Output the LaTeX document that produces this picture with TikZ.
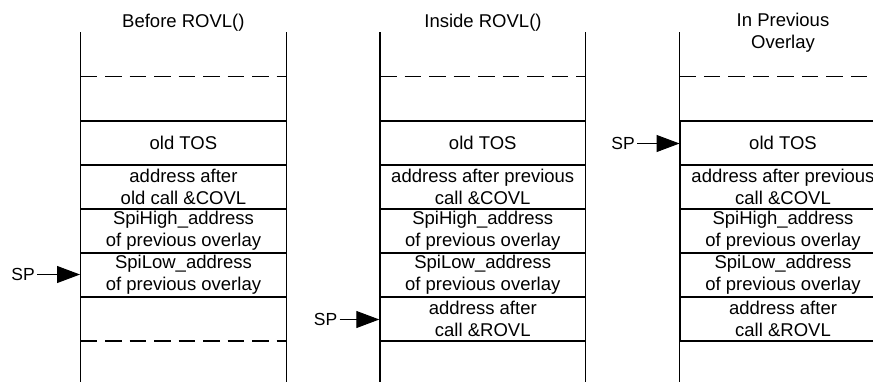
\documentclass[tikz,border=0pt]{standalone}
\usepackage{fontspec}
\setmainfont{Liberation Sans}
\usetikzlibrary{arrows.meta}

\tikzset{
  cell/.style={draw, line width=1.4pt, minimum width=205.5pt, minimum height=44pt,
    inner sep=0pt, align=center, font=\fontsize{18.5}{22}\selectfont},
  title/.style={align=center, inner sep=0pt, font=\fontsize{18.5}{22}\selectfont},
  splabel/.style={anchor=east, inner sep=2pt, font=\fontsize{17.5}{20}\selectfont},
  sparrow/.style={line width=1pt, -{Triangle[length=23pt,width=17pt]}},
  wall/.style={line width=1.2pt},
  gap/.style={line width=1.5pt, dash pattern=on 16.5pt off 8pt},
}

\begin{document}
\begin{tikzpicture}[x=1pt, y=-1pt]
  \useasboundingbox (0,0) rectangle (873,381);
  \clip (0,0) rectangle (873,381);

  % column titles
  \node[title] (t1) at (183.4,22.5) {Before ROVL()};
  \node[title] (t2) at (483,22.5) {Inside ROVL()};
  \node[title] (t3) at (783,33) {In Previous\\Overlay};

  % stack walls
  \foreach \x in {80.7,286.2,380,585.5,679.3,884.8}
    \draw[wall] (\x,32) -- (\x,385);

  % dashed continuation marks
  \draw[gap] (80.7,76.5) -- (286.2,76.5);
  \draw[gap] (80.7,341) -- (286.2,341);
  \draw[gap] (380,76.5) -- (585.5,76.5);
  \draw[gap] (679.3,76.5) -- (884.8,76.5);

  % stack before ROVL()
  \node[cell] (a1) at (183.45,143) {old TOS};
  \node[cell] (a2) at (183.45,187) {address after\\old call \&COVL};
  \node[cell] (a3) at (183.45,231) {SpiHigh\_address\\of previous overlay};
  \node[cell] (a4) at (183.45,275) {SpiLow\_address\\of previous overlay};

  % stack inside ROVL()
  \node[cell] (b1) at (482.75,143) {old TOS};
  \node[cell] (b2) at (482.75,187) {address after previous\\call \&COVL};
  \node[cell] (b3) at (482.75,231) {SpiHigh\_address\\of previous overlay};
  \node[cell] (b4) at (482.75,275) {SpiLow\_address\\of previous overlay};
  \node[cell] (b5) at (482.75,319) {address after\\call \&ROVL};

  % stack in the previous overlay
  \node[cell] (c1) at (783,143) {old TOS};
  \node[cell] (c2) at (783,187) {address after previous\\call \&COVL};
  \node[cell] (c3) at (783,231) {SpiHigh\_address\\of previous overlay};
  \node[cell] (c4) at (783,275) {SpiLow\_address\\of previous overlay};
  \node[cell] (c5) at (783,319) {address after\\call \&ROVL};

  % stack pointers
  \node[splabel] (sp1) at (37,274.5) {SP};
  \node[splabel] (sp2) at (339.5,319.5) {SP};
  \node[splabel] (sp3) at (637,143.5) {SP};
  \draw[sparrow] (sp1.east) -- (a4.west |- sp1.east);
  \draw[sparrow] (sp2.east) -- (b5.west |- sp2.east);
  \draw[sparrow] (sp3.east) -- (c1.west |- sp3.east);
\end{tikzpicture}
\end{document}
